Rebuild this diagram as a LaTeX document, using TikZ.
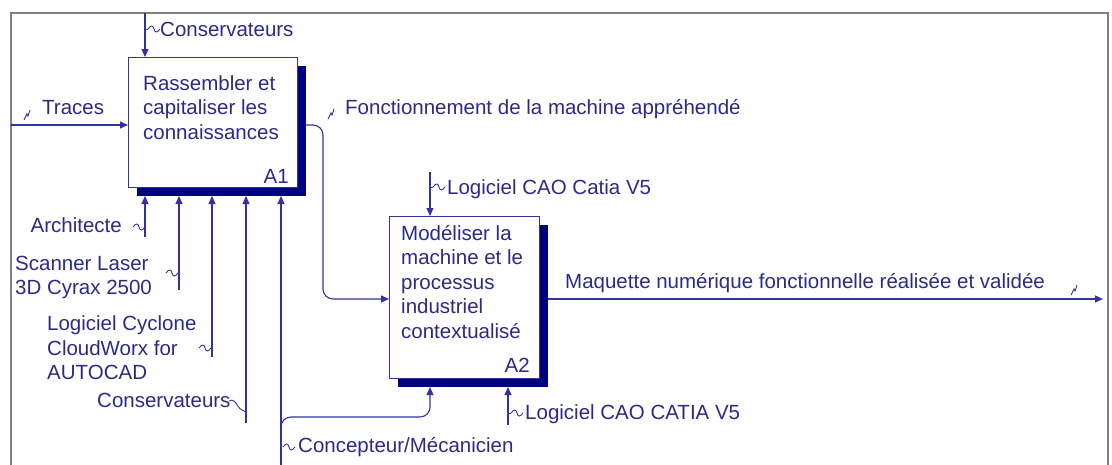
\documentclass[tikz,border=0pt]{standalone}
\usepackage{fontspec}
\setmainfont{Liberation Sans}
\usetikzlibrary{arrows.meta, positioning, calc, shadows}
\usepackage{xcolor}
\definecolor{encre}{HTML}{2B2B86}
\definecolor{trait}{HTML}{3333A0}
\definecolor{ombre}{HTML}{000080}
\definecolor{cadre}{HTML}{808080}

\begin{document}
\begin{tikzpicture}[
  x=1pt, y=-1pt,
  fonction/.style={draw=trait, fill=white, line width=1pt, inner sep=0pt, anchor=north west,
             drop shadow={shadow xshift=8pt, shadow yshift=-8pt, fill=ombre, opacity=1}},
  txt/.style={font=\fontsize{20.5}{24.5}\selectfont, text=encre, inner sep=0pt, align=left},
  num/.style={txt, anchor=south east},
  fleche/.style={-{Triangle[length=8pt, width=7pt]}, draw=trait, line width=1.1pt},
  fil/.style={draw=trait, line width=0.9pt},
  pics/vague/.style={code={\draw[fil] (-6,0) .. controls (-3,-4) and (-1,-4) .. (0,0) .. controls (1,4) and (3,4) .. (6,0);}},
  pics/eclair/.style={code={\draw[fil] (-3,5) -- (0,-1) -- (1,1) -- (3,-5);}}
]
\useasboundingbox (0,0) rectangle (1112,464);
\draw[cadre, line width=2.5pt] (11,470) -- (11,13) -- (1108,13) -- (1108,470);

% boites
\node[fonction, minimum width=169pt, minimum height=130pt] (a1) at (128,57) {};
\node[fonction, minimum width=150pt, minimum height=162pt] (a2) at (389,216) {};
\node[txt, anchor=north west] (a1txt) at (143,75) {Rassembler et\\capitaliser les\\connaissances};
\node[num] (a1num) at ($(a1.south east)+(-9,-4.5)$) {A1};
\node[txt, anchor=north west] (a2txt) at (401,225) {Modéliser la\\machine et le\\processus\\industriel\\contextualisé};
\node[num] (a2num) at ($(a2.south east)+(-10,-6.5)$) {A2};
\coordinate (a1bas) at ($(a1.south)+(0,8)$);
\coordinate (a2bas) at ($(a2.south)+(0,8)$);

% entree
\coordinate (traces) at (11,125);
\draw[fleche] (traces) -- (traces -| a1.west);
\node[txt, anchor=base west] (lTraces) at (42,114) {Traces};
\pic at (27,115) {eclair};

% controles
\coordinate (cons1) at (145,13);
\draw[fleche] (cons1) -- (cons1 |- a1.north);
\node[txt, anchor=base west] (lCons1) at (160,36.5) {Conservateurs};
\draw[fil] (145,29) -- (148,29);
\pic at (154,29) {vague};

\coordinate (ctrl2) at (430,172);
\draw[fleche] (ctrl2) -- (ctrl2 |- a2.north);
\node[txt, anchor=base west] (lCtrl2) at (447,194.5) {Logiciel CAO Catia V5};
\draw[fil] (430,187) -- (433,187);
\pic at (439,187) {vague};

% mecanismes A1
\foreach \x/\y/\nom in {145/237/archi, 179/290/scan, 212/357/cyclone, 246/423/cons2, 281/470/concep}{
  \coordinate (\nom) at (\x,\y);
  \draw[fleche] (\nom) -- (\nom |- a1bas);
}
\node[txt, anchor=base east] (lArchi) at (122,232.5) {Architecte};
\pic at (139,227) {vague};
\node[txt, anchor=north west] (lScan) at (15,255.5) {Scanner Laser\\3D Cyrax 2500};
\pic at (172,273) {vague};
\node[txt, anchor=north west] (lCyclone) at (47,315.5) {Logiciel Cyclone\\CloudWorx for\\AUTOCAD};
\pic at (205,348) {vague};
\node[txt, anchor=base west] (lCons2) at (97,407.5) {Conservateurs};
\draw[fil] (229,401) .. controls (233,398) and (236,403) .. (238,406) .. controls (240,410) and (243,410) .. (246,412);

\coordinate (branche) at (281,417);
\draw[fleche, rounded corners=10pt] ($(branche)+(0,14)$) -- (branche) -- (branche -| ctrl2) -- (ctrl2 |- a2bas);
\node[txt, anchor=base west] (lConcep) at (298,452.5) {Concepteur/Mécanicien};
\pic at (289,447) {vague};

% mecanisme A2
\coordinate (mec2) at (508,425);
\draw[fleche] (mec2) -- (mec2 |- a2bas);
\node[txt, anchor=base west] (lMec2) at (525,419.5) {Logiciel CAO CATIA V5};
\draw[fil] (508,413) -- (511,413);
\pic at (517,413) {vague};

% sorties
\coordinate (sortie) at (1103,299);
\draw[fleche, rounded corners=10pt] ($(a1.east |- traces)+(8,0)$) -- ++(17,0) |- (a2.west |- sortie);
\node[txt, anchor=base west] (lFonct) at (345,114) {Fonctionnement de la machine appréhendé};
\pic at (331,114) {eclair};
\draw[fleche] ($(a2.east |- sortie)+(8,0)$) -- (sortie);
\node[txt, anchor=base west] (lMaquette) at (565,288.5) {Maquette numérique fonctionnelle réalisée et validée};
\pic at (1074,290) {eclair};
\end{tikzpicture}
\end{document}
